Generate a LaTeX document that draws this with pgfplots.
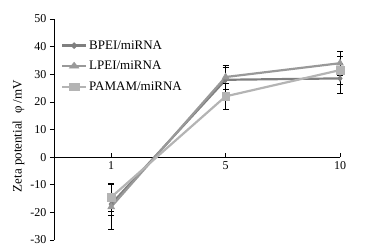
\documentclass[border=0pt]{standalone}
\usepackage{fontspec}
\setmainfont{Liberation Serif}
\usepackage{pgfplots}
\pgfplotsset{compat=1.18}
\definecolor{cB}{HTML}{7F7F7F}
\definecolor{cL}{HTML}{999999}
\definecolor{cP}{HTML}{B4B4B4}
\begin{document}
\begin{tikzpicture}[x=1pt,y=1pt]
\begin{axis}[
  at={(0,0)}, anchor=south west,
  scale only axis, width=286pt, height=221pt,
  xmin=-0.5, xmax=2, ymin=-30, ymax=50,
  axis x line*=middle, axis y line*=left,
  xtick={0,1,2}, xticklabels={1,5,10},
  ytick={-30,-20,...,50},
  xtick align=inside, ytick align=outside,
  major tick length=4pt,
  tick style={black, line width=0.6pt},
  axis line style={black, line width=0.6pt},
  /pgf/number format/assume math mode=true,
  tick label style={font=\fontsize{12}{14}\selectfont},
  x tick label style={yshift=-1pt},
  legend style={draw=none, fill=none, at={(axis cs:-0.44,43)}, anchor=north west,
    font=\fontsize{13}{15}\selectfont, row sep=6.5pt, inner sep=0pt},
  legend cell align=left,
  legend image post style={xscale=1.4},
  error bars/error bar style={black, line width=0.6pt},
  error bars/error mark options={black, rotate=90, mark size=3pt, line width=0.6pt},
  clip=false,
]
\addplot+[cB, line width=2.2pt, mark=diamond*, mark size=3pt, mark options={fill=cB, draw=cB, line width=0.5pt},
  error bars/.cd, y dir=both, y explicit]
  coordinates {(0,-17) +- (0,4) (1,28) +- (0,4.5) (2,28.5) +- (0,5.5)};
\addlegendentry{BPEI/miRNA}
\addplot+[cL, line width=2.2pt, mark=triangle*, mark size=4pt, mark options={fill=cL, draw=cL, line width=0.5pt},
  error bars/.cd, y dir=both, y explicit]
  coordinates {(0,-18) +- (0,8) (1,29) +- (0,4.3) (2,34) +- (0,4.2)};
\addlegendentry{LPEI/miRNA}
\addplot+[cP, line width=2.2pt, mark=square*, mark size=3.8pt, mark options={fill=cP, draw=cP, line width=0.5pt},
  error bars/.cd, y dir=both, y explicit]
  coordinates {(0,-14.5) +- (0,5) (1,22) +- (0,4.8) (2,31.5) +- (0,5)};
\addlegendentry{PAMAM/miRNA}
\node[rotate=90, font=\fontsize{13}{15}\selectfont] at (rel axis cs:0,0.47) [yshift=35.5pt] {Zeta potential\ \ φ /mV};
\end{axis}
\path[use as bounding box] (-54,-10) rectangle (318,240);
\end{tikzpicture}
\end{document}
